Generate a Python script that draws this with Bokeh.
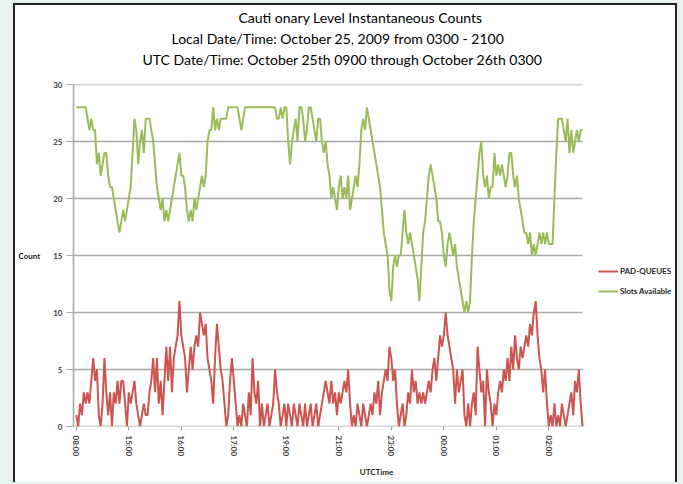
from bokeh.plotting import figure
from bokeh.models import Range1d, FixedTicker, Legend, LegendItem, Title
from bokeh.embed import file_html
from bokeh.resources import INLINE

# ---------------- data ----------------
title_lines = [
    "Cauti  onary Level Instantaneous Counts",
    "Local Date/Time: October 25, 2009 from 0300 - 2100",
    "UTC Date/Time: October 25th 0900 through October 26th 0300",
]
tick_labels = ["08:00", "15:00", "16:00", "17:00", "19:00",
               "21:00", "23:00", "00:00", "01:00", "02:00"]
tick_step = 28
y_ticks = [0, 5, 10, 15, 20, 25, 30]
series_names = ["PAD-QUEUES", "Slots Available"]

pad_queues = [
    1, 0, 2, 1, 3, 2, 3, 2, 4, 6, 4, 5, 1, 0, 2, 6, 3, 1, 3, 0,
    3, 2, 4, 2, 4, 4, 2, 0, 3, 2, 3, 4, 2, 1, 0, 1, 2, 1, 1, 3,
    4, 6, 3, 6, 2, 4, 1, 4, 7, 4, 7, 3, 6, 7, 8, 11, 8, 7, 6, 3,
    5, 7, 5, 7, 8, 7, 10, 9, 8, 9, 6, 5, 4, 2, 6, 9, 7, 5, 4, 2,
    0, 1, 4, 6, 4, 2, 0, 1, 0, 2, 1, 0, 3, 1, 6, 3, 2, 4, 0, 2,
    0, 1, 2, 0, 1, 2, 5, 3, 2, 0, 1, 2, 0, 2, 1, 0, 2, 1, 0, 2,
    1, 0, 2, 0, 1, 2, 0, 1, 2, 0, 1, 2, 3, 4, 3, 2, 4, 2, 3, 1,
    3, 2, 3, 4, 3, 5, 2, 0, 1, 0, 2, 1, 0, 2, 1, 0, 1, 2, 1, 3,
    2, 4, 1, 3, 4, 5, 4, 7, 6, 4, 5, 2, 0, 1, 2, 0, 1, 3, 2, 5,
    3, 4, 2, 3, 2, 3, 2, 3, 4, 3, 5, 6, 4, 6, 8, 7, 8, 10, 8, 7,
    6, 5, 2, 5, 3, 4, 5, 1, 0, 2, 0, 2, 3, 1, 7, 5, 3, 4, 0, 5,
    3, 2, 0, 2, 1, 3, 4, 3, 5, 4, 6, 4, 7, 5, 8, 6, 5, 7, 6, 7,
    8, 7, 9, 8, 10, 11, 8, 6, 5, 3, 5, 2, 0, 1, 0, 2, 0, 1, 0, 2,
    1, 0, 1, 2, 3, 1, 4, 3, 5, 2, 0,
]

slots_available = [
    28, 28, 28, 28, 28, 28, 27, 26, 27, 26, 26, 23, 24, 22, 23, 24, 24, 22, 21, 21,
    20, 19, 18, 17, 18, 19, 18, 19, 20, 21, 24, 27, 26, 23, 25, 26, 24, 27, 27, 27,
    26, 25, 23, 21, 20, 19, 20, 18, 19, 18, 19, 20, 21, 22, 23, 24, 22, 22, 21, 19,
    18, 19, 18, 20, 19, 20, 21, 22, 21, 22, 25, 26, 26, 28, 26, 27, 26, 27, 27, 27,
    27, 28, 28, 28, 28, 28, 28, 27, 26, 27, 28, 28, 28, 28, 28, 28, 28, 28, 28, 28,
    28, 28, 28, 28, 28, 28, 28, 27, 27, 28, 27, 28, 28, 25, 23, 25, 26, 27, 25, 28,
    28, 27, 25, 26, 28, 28, 27, 26, 25, 27, 27, 25, 24, 25, 23, 22, 20, 21, 20, 19,
    21, 22, 20, 21, 20, 22, 19, 20, 21, 22, 21, 23, 26, 27, 26, 28, 27, 26, 25, 24,
    23, 22, 21, 19, 17, 16, 15, 12, 11, 14, 15, 14, 15, 15, 17, 19, 17, 16, 17, 16,
    15, 14, 13, 11, 14, 17, 18, 20, 22, 23, 22, 21, 20, 18, 18, 17, 15, 14, 16, 17,
    16, 15, 16, 14, 13, 12, 11, 10, 11, 10, 11, 15, 18, 20, 22, 24, 25, 22, 21, 22,
    20, 21, 21, 24, 22, 23, 22, 23, 22, 21, 22, 24, 24, 22, 21, 22, 20, 19, 18, 17,
    17, 16, 17, 15, 16, 15, 16, 17, 16, 17, 16, 17, 16, 16, 16, 20, 24, 27, 27, 27,
    26, 25, 27, 24, 26, 24, 25, 26, 25, 26, 26,
]

# ---------------- figure ----------------
FONT = "Lato"
GRID = "#a8a8a8"

x_start = -1.5
x_last = len(slots_available) - 1          # last category of the plotting area
x_end = x_start + (606 / 1.875)            # frame extends right to hold the legend

p = figure(width=664, height=479,
           x_range=Range1d(x_start, x_end), y_range=Range1d(0, 30),
           output_backend="svg", toolbar_location=None,
           min_border_left=58, min_border_right=0,
           min_border_top=79, min_border_bottom=58)
p.styles = {"margin-left": "13px",
            "margin-top": "3px",
            "border-left": "2px solid #222222",
            "border-right": "2px solid #222222",
            "border-top": "2px solid #222222",
            "box-shadow": "0 0 0 40px #e6f2ef"}
p.background_fill_color = "white"
p.border_fill_color = "white"
p.outline_line_color = None

# horizontal gridlines (incl. the category axis line at 0), limited to the plot area
p.segment(x0=[x_start] * len(y_ticks), y0=y_ticks,
          x1=[x_last] * len(y_ticks), y1=y_ticks,
          line_color=GRID, line_width=1.6)

r_pad = p.line(list(range(len(pad_queues))), pad_queues,
               line_color="#cd5550", line_width=2.0)
r_slots = p.line(list(range(len(slots_available))), slots_available,
                 line_color="#9bbb59", line_width=2.0)

# axes
p.xaxis.ticker = FixedTicker(ticks=[i * tick_step for i in range(len(tick_labels))])
p.xaxis.major_label_overrides = {i * tick_step: lab for i, lab in enumerate(tick_labels)}
p.xaxis.major_label_orientation = "vertical"
p.xaxis.axis_label = "UTCTime"
p.yaxis.ticker = FixedTicker(ticks=y_ticks)
p.yaxis.axis_label = "Count"
p.yaxis.axis_label_orientation = "horizontal"

for ax in (p.xaxis[0], p.yaxis[0]):
    ax.axis_line_color = GRID
    ax.axis_line_width = 1.6
    ax.major_tick_line_color = GRID
    ax.major_tick_line_width = 1.2
    ax.major_tick_in = 0
    ax.minor_tick_line_color = None
    ax.major_label_text_font = FONT
    ax.major_label_text_font_size = "8px"
    ax.major_label_text_font_style = "bold"
    ax.major_label_text_color = "#404040"
    ax.axis_label_text_font = FONT
    ax.axis_label_text_font_size = "8px"
    ax.axis_label_text_font_style = "bold"
    ax.axis_label_text_color = "#1a1a1a"

p.xaxis.axis_line_color = None
p.xaxis.major_tick_out = 4
p.xaxis.major_label_standoff = 5
p.xaxis.axis_label_standoff = 8
p.yaxis.major_tick_out = 7
p.yaxis.major_label_standoff = 4
p.yaxis.axis_label_standoff = 10

p.xgrid.visible = False
p.ygrid.visible = False

# titles: a small spacer next to the frame, then lines 3, 2, 1 going up
p.add_layout(Title(text=" ", text_font=FONT, text_font_size="8px", standoff=4), "above")
title_offsets = [165, 98, 69]
for txt, off in reversed(list(zip(title_lines, title_offsets))):
    p.add_layout(Title(text=txt, align="left", offset=off, text_font=FONT,
                       text_font_size="14px", text_font_style="normal",
                       text_color="#000000", standoff=2), "above")

# legend (inside the widened frame, right of the plotting area)
legend = Legend(items=[LegendItem(label=series_names[0], renderers=[r_pad]),
                       LegendItem(label=series_names[1], renderers=[r_slots])],
                location=(525, 125))
legend.border_line_color = None
legend.background_fill_alpha = 0
legend.padding = 0
legend.margin = 0
legend.spacing = 0
legend.glyph_width = 20
legend.glyph_height = 20
legend.label_height = 20
legend.label_standoff = 2
legend.label_text_font = FONT
legend.label_text_font_size = "8px"
legend.label_text_font_style = "bold"
legend.label_text_color = "#262626"
p.add_layout(legend)

open("out.html", "w").write(file_html(p, INLINE))
